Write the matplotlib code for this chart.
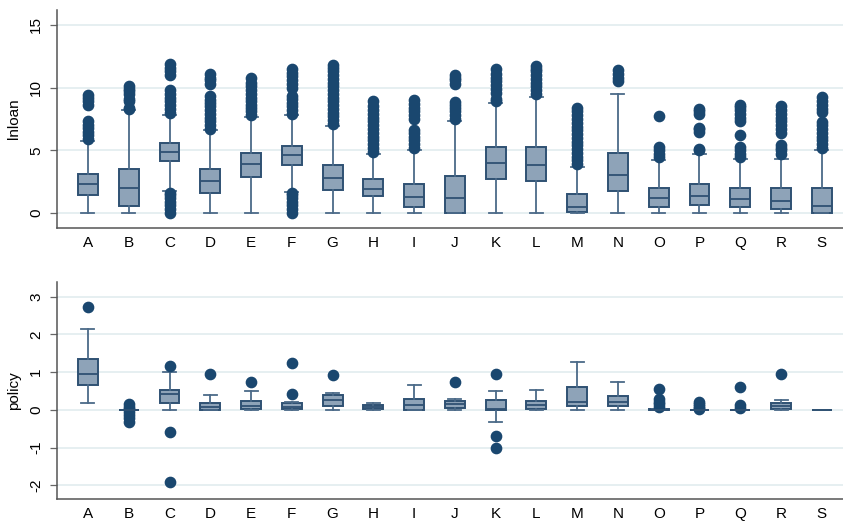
# Box plots of lnloan and policy by industry group
import matplotlib.pyplot as plt

plt.rcParams['font.family'] = ['Liberation Sans', 'DejaVu Sans']

groups = list('ABCDEFGHIJKLMNOPQRS')

# lnloan summary: lower whisker, q1, median, q3, upper whisker
loan_wlo = [0, 0, 1.76, 0, 0, 1.68, 0, 0, 0, 0, 0, 0, 0, 0, 0, 0, 0, 0, 0]
loan_q1 = [1.41, 0.56, 4.12, 1.60, 2.87, 3.86, 1.81, 1.33, 0.45, 0.0, 2.74, 2.53, 0.08, 1.73, 0.48, 0.66, 0.48, 0.32, 0.0]
loan_med = [2.31, 2.0, 4.87, 2.53, 3.88, 4.60, 2.77, 1.94, 1.28, 1.22, 4.02, 3.80, 0.48, 3.06, 1.17, 1.38, 1.12, 0.98, 0.59]
loan_q3 = [3.14, 3.48, 5.61, 3.54, 4.79, 5.35, 3.86, 2.71, 2.34, 2.98, 5.24, 5.24, 1.54, 4.81, 2.02, 2.31, 2.02, 1.97, 1.97]
loan_whi = [5.74, 8.19, 7.85, 6.6, 7.66, 7.79, 6.91, 4.68, 5.0, 7.34, 8.78, 9.26, 3.67, 9.52, 4.26, 4.73, 4.31, 4.31, 5.0]
loan_out = [
    [5.9, 6.2, 6.5, 6.8, 7.0, 7.3, 8.6, 8.9, 9.2, 9.4],
    [8.3, 8.4, 8.9, 9.1, 9.5, 9.7, 9.9, 10.1],
    [0.0, 0.3, 0.6, 0.9, 1.2, 1.4, 1.6, 8.0, 8.3, 8.6, 8.9, 9.2, 9.5, 9.8,
     11.0, 11.3, 11.6, 11.9],
    [6.7, 7.0, 7.3, 7.6, 7.9, 8.2, 8.5, 8.8, 9.0, 9.3, 10.3, 10.6, 10.8, 11.1],
    [7.8, 8.1, 8.4, 8.6, 8.9, 9.2, 9.5, 9.8, 10.1, 10.4, 10.8],
    [0.0, 0.3, 0.6, 0.9, 1.2, 1.4, 1.6, 7.9, 8.2, 8.5, 8.8, 9.1, 9.3,
     10.0, 10.3, 10.6, 10.9, 11.2, 11.45],
    [7.1, 7.4, 7.7, 8.0, 8.3, 8.6, 8.9, 9.2, 9.5, 9.8, 10.1, 10.4, 10.7,
     11.0, 11.3, 11.55, 11.8],
    [4.9, 5.2, 5.5, 5.8, 6.1, 6.4, 6.7, 7.0, 7.3, 7.6, 7.9, 8.2, 8.5, 8.9],
    [5.2, 5.5, 5.8, 6.1, 6.4, 6.65, 7.5, 7.8, 8.1, 8.4, 8.7, 9.05],
    [7.5, 7.8, 8.1, 8.4, 8.6, 8.85, 10.3, 10.6, 10.8, 11.0],
    [8.9, 9.1, 9.6, 9.9, 10.2, 10.5, 10.8, 11.1, 11.45],
    [9.5, 9.8, 10.1, 10.4, 10.7, 11.0, 11.3, 11.5, 11.7],
    [3.9, 4.2, 4.5, 4.8, 5.1, 5.4, 5.7, 6.0, 6.3, 6.6, 6.9, 7.2, 7.5, 7.8,
     8.1, 8.35],
    [10.5, 10.8, 11.1, 11.4],
    [4.45, 4.7, 5.0, 5.25, 7.7],
    [5.0, 5.1, 6.5, 6.7, 6.8, 7.9, 8.1, 8.3],
    [4.5, 4.7, 5.0, 5.3, 6.2, 7.35, 7.6, 7.9, 8.2, 8.45, 8.65],
    [4.7, 5.0, 5.2, 5.4, 6.4, 6.7, 7.0, 7.3, 7.6, 7.9, 8.2, 8.5],
    [5.2, 5.5, 5.8, 6.1, 6.4, 6.7, 7.0, 7.25, 8.05, 8.3, 8.6, 8.9, 9.25],
]

# policy summary
pol_wlo = [0.19, 0, 0, 0, 0, 0, 0, 0, 0, 0, -0.32, 0, 0, 0, 0, 0, 0, 0, 0]
pol_q1 = [0.65, 0, 0.19, 0.0, 0.01, 0.01, 0.10, 0.02, 0.0, 0.05, -0.01, 0.01, 0.11, 0.11, 0, 0, 0, 0.02, 0]
pol_med = [0.94, 0, 0.43, 0.08, 0.11, 0.08, 0.26, 0.08, 0.12, 0.15, 0.02, 0.12, 0.22, 0.22, 0, 0, 0, 0.10, 0]
pol_q3 = [1.36, 0, 0.52, 0.19, 0.23, 0.17, 0.39, 0.12, 0.30, 0.23, 0.27, 0.24, 0.61, 0.36, 0.02, 0, 0, 0.19, 0]
pol_whi = [2.15, 0, 0.99, 0.39, 0.50, 0.21, 0.45, 0.19, 0.65, 0.29, 0.50, 0.53, 1.27, 0.74, 0.02, 0, 0, 0.26, 0]
pol_out = [
    [2.73],
    [0.15, 0.08, 0.02, -0.06, -0.13, -0.22, -0.33],
    [1.16, -0.59, -1.91],
    [0.96],
    [0.74],
    [0.41, 1.23],
    [0.92],
    [],
    [],
    [0.74],
    [0.96, -0.70, -1.0],
    [],
    [],
    [],
    [0.08, 0.15, 0.22, 0.28, 0.54],
    [0.02, 0.06, 0.11, 0.16, 0.21],
    [0.06, 0.12, 0.61],
    [0.94],
    [],
]

navy = '#1a476f'
fill = '#8ea3b8'
edge = '#2f5173'
whisk = '#4b6a88'
grid = '#e6eff1'


def make_stats(wlo, q1, med, q3, whi, out):
    return [dict(whislo=a, q1=b, med=c, q3=d, whishi=e, fliers=f)
            for a, b, c, d, e, f in zip(wlo, q1, med, q3, whi, out)]


def draw(ax, stats, yticks, ylim, label):
    ax.bxp(stats, positions=range(1, len(groups) + 1), widths=0.49,
           capwidths=0.32, patch_artist=True,
           boxprops=dict(facecolor=fill, edgecolor=edge, linewidth=1.4),
           medianprops=dict(color=edge, linewidth=1.3),
           whiskerprops=dict(color=whisk, linewidth=1.3),
           capprops=dict(color=whisk, linewidth=1.3),
           flierprops=dict(marker='o', markersize=7.4, markerfacecolor=navy,
                           markeredgecolor=navy))
    ax.set_xlim(0.24, 19.76)
    ax.set_ylim(*ylim)
    ax.set_yticks(yticks)
    ax.set_yticklabels([str(t) for t in yticks], rotation=90, va='center')
    ax.set_xticks(range(1, len(groups) + 1))
    ax.set_xticklabels(groups)
    ax.tick_params(axis='x', length=0, pad=6, labelsize=11)
    ax.tick_params(axis='y', length=5, width=0.9, color='#666666',
                   pad=5, labelsize=11)
    ax.set_ylabel(label, fontsize=11, labelpad=6)
    for t in yticks:
        ax.axhline(t, color=grid, linewidth=1.4, zorder=0)
    for s in ['top', 'right']:
        ax.spines[s].set_visible(False)
    for s in ['left', 'bottom']:
        ax.spines[s].set_color('#555555')
        ax.spines[s].set_linewidth(1.1)


fig = plt.figure(figsize=(8.43, 5.23), dpi=100)
ax1 = fig.add_axes([0.0676, 0.564, 0.944, 0.417])
ax2 = fig.add_axes([0.0676, 0.046, 0.944, 0.415])

draw(ax1, make_stats(loan_wlo, loan_q1, loan_med, loan_q3, loan_whi, loan_out),
     [0, 5, 10, 15], (-1.2, 16.2), 'lnloan')
draw(ax2, make_stats(pol_wlo, pol_q1, pol_med, pol_q3, pol_whi, pol_out),
     [-2, -1, 0, 1, 2, 3], (-2.36, 3.39), 'policy')

fig.savefig('out.png', dpi=100)
